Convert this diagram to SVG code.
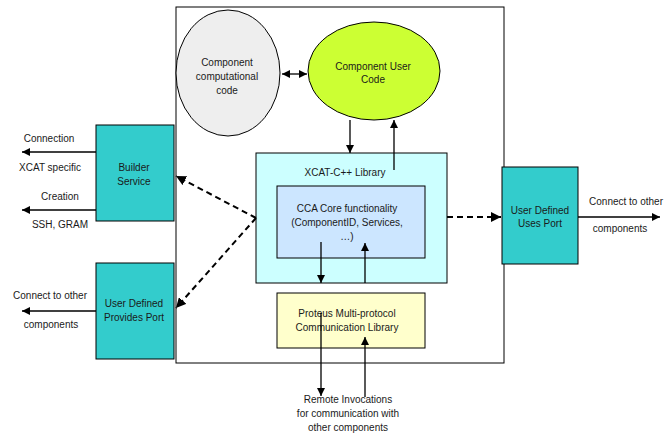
<svg xmlns="http://www.w3.org/2000/svg" width="670" height="434" viewBox="0 0 670 434">
<defs>
<marker id="ah" viewBox="0 0 10 10" refX="10" refY="5" markerWidth="8" markerHeight="8" markerUnits="userSpaceOnUse" orient="auto-start-reverse"><path d="M0,0 L10,5 L0,10 Z" fill="#000"/></marker>
<marker id="ahd" viewBox="0 0 10 10" refX="10" refY="5" markerWidth="10" markerHeight="10" markerUnits="userSpaceOnUse" orient="auto"><path d="M0,0 L10,5 L0,10 Z" fill="#000"/></marker>
</defs>
<style>
text{font-family:"Liberation Sans",Arial,sans-serif;font-size:10px;fill:#1a1a1a;text-anchor:middle}
.box{stroke:#000;stroke-width:1}
.ln{stroke:#000;stroke-width:1.3;fill:none;marker-end:url(#ah)}
.dl{stroke:#000;stroke-width:2;fill:none;stroke-dasharray:6,4;marker-end:url(#ahd)}
</style>
<rect width="670" height="434" fill="#fff"/>
<g id="component">
<rect x="176" y="7" width="328" height="356" fill="#fff" class="box"/>
</g>
<g id="computational">
<ellipse cx="228" cy="73" rx="52" ry="63" fill="#eeeeee" class="box"/>
<text x="227" y="65.5">Component</text>
<text x="227" y="79.5">computational</text>
<text x="227" y="93.5">code</text>
</g>
<g id="usercode">
<ellipse cx="374" cy="71" rx="66" ry="49" fill="#ccff33" class="box"/>
<text x="373" y="69.5">Component User</text>
<text x="373" y="83">Code</text>
</g>
<g id="xcatlib">
<rect x="256" y="153" width="191" height="130" fill="#ccffff" class="box"/>
<text x="345" y="175.5">XCAT-C++ Library</text>
</g>
<g id="ccacore">
<rect x="277" y="186" width="148" height="72" fill="#cce6ff" class="box"/>
<text x="347" y="211.5">CCA Core functionality</text>
<text x="347" y="225.5">(ComponentID, Services,</text>
<text x="347" y="239.5">…)</text>
</g>
<g id="proteus">
<rect x="277" y="293" width="148" height="55" fill="#ffffcc" class="box"/>
<text x="347" y="316.5">Proteus Multi-protocol</text>
<text x="347" y="330.5">Communication Library</text>
</g>
<g id="builder">
<rect x="96" y="125" width="78" height="96" fill="#33cccc" class="box"/>
<text x="134" y="170.5">Builder</text>
<text x="134" y="184.5">Service</text>
</g>
<g id="provides">
<rect x="96" y="263" width="78" height="96" fill="#33cccc" class="box"/>
<text x="134" y="306.5">User Defined</text>
<text x="134" y="320.5">Provides Port</text>
</g>
<g id="uses">
<rect x="502" y="167" width="76" height="97" fill="#33cccc" class="box"/>
<text x="540" y="213.5">User Defined</text>
<text x="540" y="226.5">Uses Port</text>
</g>
<g id="labels">
<text x="49" y="141.5">Connection</text>
<text x="50" y="170.5">XCAT specific</text>
<text x="60" y="199.5">Creation</text>
<text x="60" y="227.5">SSH, GRAM</text>
<text x="50" y="298.5">Connect to other</text>
<text x="51" y="327.5">components</text>
<text x="626" y="204.5">Connect to other</text>
<text x="620" y="231.5">components</text>
<text x="348" y="402.5">Remote Invocations</text>
<text x="348" y="416.5">for communication with</text>
<text x="348" y="430.5">other components</text>
</g>
<g id="connectors">
<line x1="282" y1="74" x2="307" y2="74" class="ln" style="marker-start:url(#ah)"/>
<line x1="350" y1="120" x2="350" y2="153" class="ln"/>
<line x1="394" y1="170" x2="394" y2="120" class="ln"/>
<line x1="321" y1="242" x2="321" y2="283" class="ln"/>
<line x1="365" y1="283" x2="365" y2="243" class="ln"/>
<line x1="321" y1="313" x2="321" y2="396" class="ln"/>
<line x1="365" y1="397" x2="365" y2="337" class="ln"/>
<line x1="96" y1="152" x2="22" y2="152" class="ln"/>
<line x1="96" y1="210" x2="22" y2="210" class="ln"/>
<line x1="96" y1="311" x2="22" y2="311" class="ln"/>
<line x1="578" y1="217" x2="660" y2="217" class="ln"/>
<line x1="447" y1="217" x2="501" y2="217" class="dl"/>
<line x1="256" y1="218" x2="176" y2="176" class="dl"/>
<line x1="256" y1="218" x2="176" y2="308" class="dl"/>
</g>
</svg>
